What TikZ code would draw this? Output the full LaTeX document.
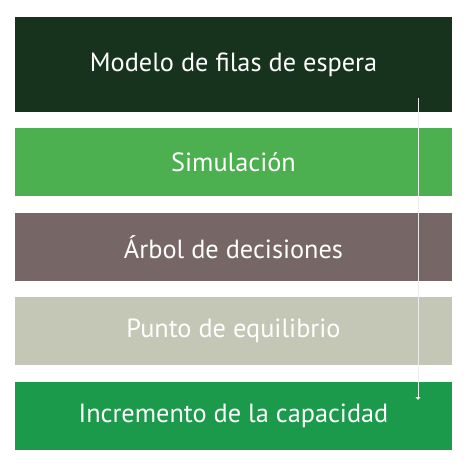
\documentclass[tikz,border=0pt]{standalone}
\usepackage{fontspec}
\setmainfont{PT Sans}
\usetikzlibrary{positioning,arrows.meta}

\definecolor{verdeosc}{HTML}{17331D}
\definecolor{verdemed}{HTML}{4CAF50}
\definecolor{marron}{HTML}{766766}
\definecolor{grisclaro}{HTML}{C4C7B5}
\definecolor{verdefuerte}{HTML}{1B9A4B}

\begin{document}
\begin{tikzpicture}[
    x=1pt, y=-1pt,
    caja/.style={rectangle, minimum width=437pt, minimum height=68pt, inner sep=0pt, text=white, font=\fontsize{26.3}{30}\selectfont},
    flecha/.style={-{Triangle[width=5pt,length=3pt]}, white!85!gray, line width=0.8pt}
]

% Marco
\useasboundingbox (0,0) rectangle (466,469);

% Primera caja
\node[caja, fill=verdeosc, minimum height=95pt] (modelo) at (233.5,64.5) {Modelo de filas de espera};

% Resto de cajas
\node[caja, fill=verdemed, below=16pt of modelo] (simulacion) {Simulación};
\node[caja, fill=marron, below=16pt of simulacion] (arbol) {Árbol de decisiones};
\node[caja, fill=grisclaro, below=16pt of arbol] (punto) {Punto de equilibrio};
\node[caja, fill=verdefuerte, below=16pt of punto] (incremento) {Incremento de la capacidad};

% Flecha
\coordinate (ini) at (418,98);
\coordinate (fin) at (418,400);
\draw[flecha] (ini) -- (fin);

\end{tikzpicture}
\end{document}
